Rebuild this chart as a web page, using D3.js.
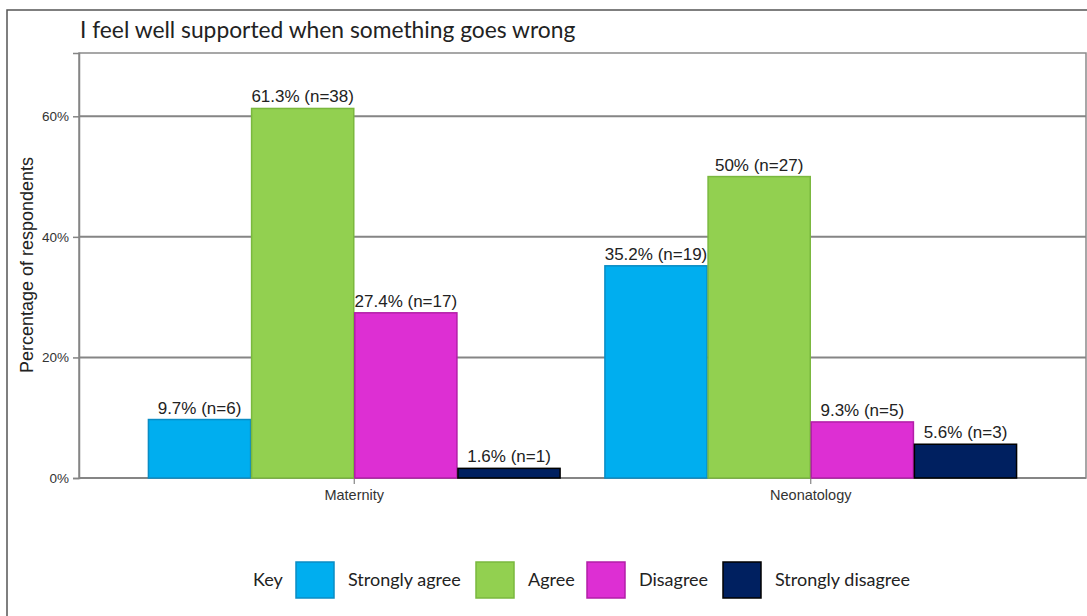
<!DOCTYPE html>
<html>
<head>
<meta charset="utf-8">
<script src="https://cdn.jsdelivr.net/npm/d3@7"></script>
<style>
  html, body { margin: 0; padding: 0; background: #fff; }
  svg { display: block; }
</style>
</head>
<body>
<div id="chart"></div>
<script>
const title = 'I feel well supported when something goes wrong';
const categories = ['Maternity', 'Neonatology'];
const seriesNames = ['Strongly agree', 'Agree', 'Disagree', 'Strongly disagree'];
const seriesColors = ['#00aeef', '#92d050', '#dd2fd3', '#002060'];
const seriesStrokes = ['#0a8cc4', '#7ab83e', '#b21fa8', '#000000'];
// percentages per category, in series order
const maternityValues = [9.7, 61.3, 27.4, 1.6];
const neonatologyValues = [35.2, 50, 9.3, 5.6];
const maternityCounts = [6, 38, 17, 1];
const neonatologyCounts = [19, 27, 5, 3];
const yTicks = [0, 20, 40, 60];

const width = 1087;
const height = 616;
const margin = { top: 53, right: 1, bottom: 138, left: 79 };
const plotW = width - margin.left - margin.right;
const plotH = height - margin.top - margin.bottom;

const values = [maternityValues, neonatologyValues];
const counts = [maternityCounts, neonatologyCounts];

const svg = d3.select('#chart')
    .append('svg')
    .attr('width', width)
    .attr('height', height);

// outer frame
svg.append('rect')
    .attr('x', 7).attr('y', 10)
    .attr('width', width + 20).attr('height', height + 20)
    .attr('fill', '#fff')
    .attr('stroke', '#555').attr('stroke-width', 1.5);

svg.append('text')
    .attr('x', 80).attr('y', 38)
    .attr('font-family', 'Lato, sans-serif')
    .attr('font-size', 22.8)
    .attr('fill', '#222')
    .text(title);

const g = svg.append('g')
    .attr('transform', `translate(${margin.left},${margin.top})`);

const x0 = d3.scaleBand()
    .domain(categories)
    .range([0, plotW])
    .paddingInner(0.096)
    .paddingOuter(0.151);

const x1 = d3.scaleBand()
    .domain(seriesNames)
    .range([0, x0.bandwidth()])
    .padding(0);

const y = d3.scaleLinear()
    .domain([0, 70.5])
    .range([plotH, 0]);

// plot box
g.append('rect')
    .attr('width', plotW).attr('height', plotH)
    .attr('fill', 'none')
    .attr('stroke', '#8a8a8a').attr('stroke-width', 1.5);

// gridlines
g.append('g')
    .selectAll('line')
    .data(yTicks)
    .enter()
    .append('line')
    .attr('x1', 0).attr('x2', plotW)
    .attr('y1', d => y(d)).attr('y2', d => y(d))
    .attr('stroke', '#858585').attr('stroke-width', 2);

// y axis
const yAxis = g.append('g')
    .call(d3.axisLeft(y).tickValues(yTicks).tickFormat(d => d + '%').tickSize(6).tickPadding(4));
yAxis.select('.domain').attr('stroke', '#858585').attr('stroke-width', 1.5);
yAxis.selectAll('.tick line').attr('stroke', '#858585').attr('stroke-width', 1.5);
yAxis.selectAll('.tick text')
    .attr('font-family', '"Liberation Sans", Arial, sans-serif')
    .attr('font-size', 13.5)
    .attr('fill', '#333');

// x axis
const xAxis = g.append('g')
    .attr('transform', `translate(0,${plotH})`)
    .call(d3.axisBottom(x0).tickSize(6).tickPadding(6));
xAxis.select('.domain').remove();
xAxis.selectAll('.tick line').attr('stroke', '#858585').attr('stroke-width', 1.2);
xAxis.selectAll('.tick text')
    .attr('font-family', '"Liberation Sans", Arial, sans-serif')
    .attr('font-size', 14.5)
    .attr('fill', '#333');

svg.append('text')
    .attr('transform', 'translate(33,265) rotate(-90)')
    .attr('text-anchor', 'middle')
    .attr('font-family', '"Liberation Sans", Arial, sans-serif')
    .attr('font-size', 18)
    .attr('fill', '#222')
    .text('Percentage of respondents');

// bars
const groups = g.append('g')
    .selectAll('g')
    .data(categories)
    .enter()
    .append('g')
    .attr('transform', d => `translate(${x0(d)},0)`);

const barData = (cat, ci) => seriesNames.map((s, si) => ({
    series: s, si: si, value: values[ci][si], n: counts[ci][si]
}));

groups.each(function (cat, ci) {
    const grp = d3.select(this);
    const data = barData(cat, ci);
    grp.selectAll('rect')
        .data(data)
        .enter()
        .append('rect')
        .attr('x', d => x1(d.series) + 0.5)
        .attr('y', d => y(d.value))
        .attr('width', x1.bandwidth() - 1)
        .attr('height', d => plotH - y(d.value))
        .attr('fill', d => seriesColors[d.si])
        .attr('stroke', d => seriesStrokes[d.si])
        .attr('stroke-width', 1.5);
    grp.selectAll('text')
        .data(data)
        .enter()
        .append('text')
        .attr('x', d => x1(d.series) + x1.bandwidth() / 2)
        .attr('y', d => y(d.value) - 6)
        .attr('text-anchor', 'middle')
        .attr('font-family', '"Liberation Sans", Arial, sans-serif')
        .attr('font-size', 17)
        .attr('fill', '#222')
        .text(d => `${d.value}% (n=${d.n})`);
});

// legend
const legend = svg.append('g')
    .attr('transform', 'translate(0,580)');
legend.append('text')
    .attr('x', 253).attr('y', 6)
    .attr('font-family', 'Lato, sans-serif')
    .attr('font-size', 18)
    .attr('fill', '#222')
    .text('Key');

const legendX = [296, 476, 587, 723];
const items = legend.selectAll('g.item')
    .data(seriesNames)
    .enter()
    .append('g')
    .attr('class', 'item')
    .attr('transform', (d, i) => `translate(${legendX[i]},0)`);
items.append('rect')
    .attr('x', 0).attr('y', -18)
    .attr('width', 38).attr('height', 36)
    .attr('fill', (d, i) => seriesColors[i])
    .attr('stroke', (d, i) => seriesStrokes[i])
    .attr('stroke-width', 1.5);
items.append('text')
    .attr('x', 52).attr('y', 6)
    .attr('font-family', 'Lato, sans-serif')
    .attr('font-size', 18)
    .attr('fill', '#222')
    .text(d => d);
</script>
</body>
</html>
